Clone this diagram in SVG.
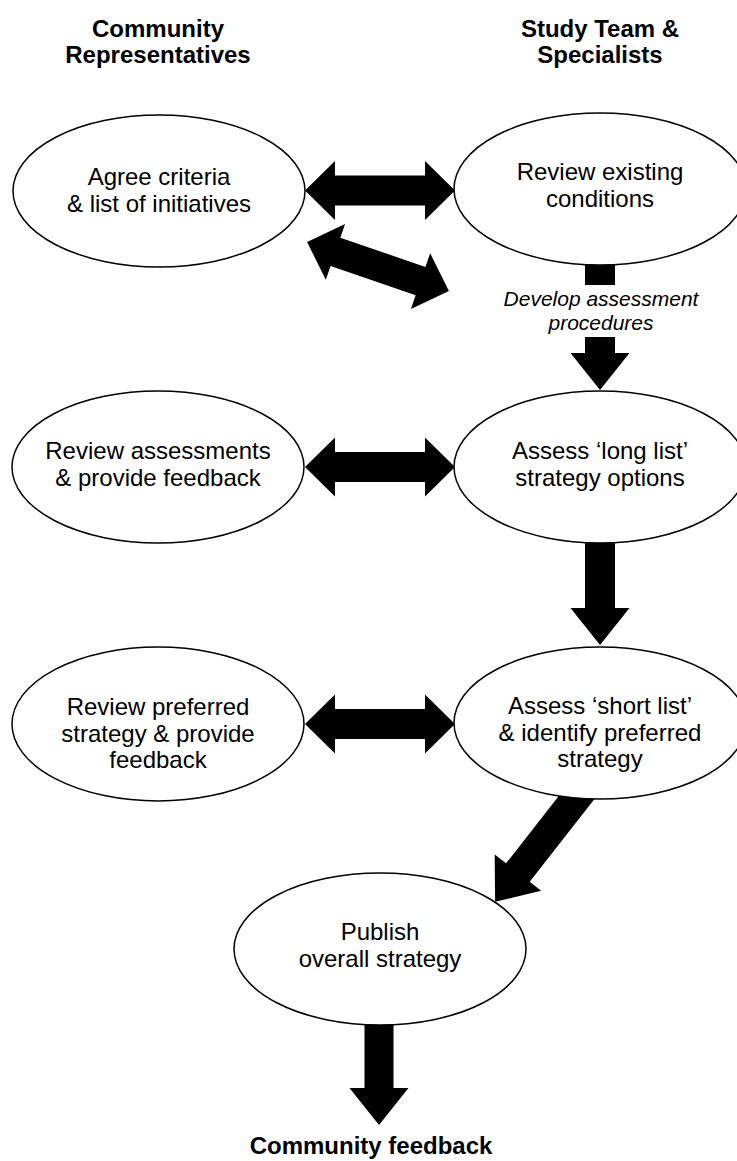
<svg xmlns="http://www.w3.org/2000/svg" width="737" height="1161" viewBox="0 0 737 1161">
<style>
.node ellipse{fill:#fff;stroke:#000;stroke-width:1.5}
.t{font-family:"Liberation Sans",Arial,sans-serif;font-size:24px;fill:#000;text-anchor:middle}
.h{font-family:"Liberation Sans",Arial,sans-serif;font-size:24px;font-weight:bold;fill:#000;text-anchor:middle}
.i{font-family:"Liberation Sans",Arial,sans-serif;font-size:21px;font-style:italic;fill:#000;text-anchor:middle}
.conn *{fill:#000;stroke:none}
</style>
<defs>
<polygon id="dbl" points="-75,0 -45,-29.5 -45,-15 45,-15 45,-29.5 75,0 45,29.5 45,15 -45,15 -45,29.5"/>
</defs>
<rect width="737" height="1161" fill="#fff"/>
<g id="headers">
<text class="h" x="158" y="37">Community</text>
<text class="h" x="158" y="63">Representatives</text>
<text class="h" x="600" y="37">Study Team &amp;</text>
<text class="h" x="600" y="63">Specialists</text>
</g>
<g id="connectors" class="conn">
<use href="#dbl" transform="translate(380 190.5)"/>
<use href="#dbl" transform="translate(378 266.5) rotate(19)"/>
<rect x="585" y="250" width="30" height="35"/>
<polygon points="585,337 615,337 615,353 629.5,353 600,390 570.5,353 585,353"/>
<use href="#dbl" transform="translate(380 467)"/>
<polygon points="585,535 615,535 615,608 629.5,608 600,645 570.5,608 585,608"/>
<use href="#dbl" transform="translate(380 724)"/>
<polygon points="0,-15 108,-15 108,-29.5 145,0 108,29.5 108,15 0,15" transform="translate(584.4 787.5) rotate(128)"/>
<polygon points="364.5,1015 393.5,1015 393.5,1088 408.5,1088 379,1125 349.5,1088 364.5,1088"/>
</g>
<g id="n1" class="node">
<ellipse cx="159" cy="191" rx="146" ry="76"/>
<text class="t" x="159" y="185">Agree criteria</text>
<text class="t" x="159" y="211.5">&amp; list of initiatives</text>
</g>
<g id="n2" class="node">
<ellipse cx="600" cy="189" rx="146" ry="76"/>
<text class="t" x="600" y="180">Review existing</text>
<text class="t" x="600" y="206.5">conditions</text>
</g>
<g id="label-develop">
<text class="i" x="601" y="306">Develop assessment</text>
<text class="i" x="601" y="330">procedures</text>
</g>
<g id="n3" class="node">
<ellipse cx="158" cy="467" rx="146" ry="76"/>
<text class="t" x="158" y="459">Review assessments</text>
<text class="t" x="158" y="485.5">&amp; provide feedback</text>
</g>
<g id="n4" class="node">
<ellipse cx="600" cy="467" rx="146" ry="76"/>
<text class="t" x="600" y="459">Assess ‘long list’</text>
<text class="t" x="600" y="485.5">strategy options</text>
</g>
<g id="n5" class="node">
<ellipse cx="158" cy="724" rx="146" ry="77"/>
<text class="t" x="158" y="715">Review preferred</text>
<text class="t" x="158" y="741.5">strategy &amp; provide</text>
<text class="t" x="158" y="768">feedback</text>
</g>
<g id="n6" class="node">
<ellipse cx="600" cy="723" rx="146" ry="76"/>
<text class="t" x="600" y="714">Assess ‘short list’</text>
<text class="t" x="600" y="740.5">&amp; identify preferred</text>
<text class="t" x="600" y="767">strategy</text>
</g>
<g id="n7" class="node">
<ellipse cx="380" cy="949" rx="146" ry="76"/>
<text class="t" x="380" y="940">Publish</text>
<text class="t" x="380" y="966.5">overall strategy</text>
</g>
<g id="label-feedback">
<text class="h" x="371" y="1154">Community feedback</text>
</g>
</svg>
